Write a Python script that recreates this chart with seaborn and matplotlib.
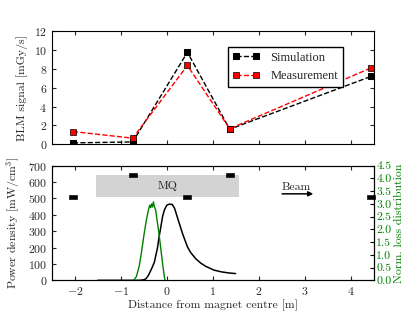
import matplotlib
matplotlib.use("Agg")
import matplotlib.pyplot as plt
import seaborn as sns

# BLM positions and signals (top panel)
blm_pos = [-2.04, -0.74, 0.45, 1.37, 4.45]
sim_signal = [0.15, 0.25, 9.75, 1.6, 7.2]
meas_signal = [1.35, 0.65, 8.35, 1.65, 8.1]

# BLM marker heights in the bottom panel
blm_marker_y = [510, 643, 510, 643, 510]

# power density along the magnet
pd_x = [-1.5, -0.6, -0.5, -0.45, -0.4, -0.33, -0.27, -0.2, -0.17, -0.12,
        -0.09, -0.05, 0.0, 0.05, 0.12, 0.17, 0.22, 0.27, 0.35, 0.45,
        0.52, 0.63, 0.74, 0.85, 1.03, 1.2, 1.35, 1.5]
pd_y = [0, 0, 3, 10, 30, 70, 110, 200, 260, 340,
        390, 430, 458, 465, 463, 440, 395, 350, 280, 205,
        170, 132, 105, 85, 62, 51, 45, 41]

# normalised loss distribution
loss_x = [-0.72, -0.66, -0.6, -0.55, -0.49, -0.44, -0.4, -0.37, -0.35, -0.33,
          -0.31, -0.29, -0.27, -0.24, -0.21, -0.17, -0.13, -0.09, -0.06, -0.04]
loss_y = [0.0, 0.15, 0.55, 1.1, 1.85, 2.4, 2.75, 2.95, 2.85, 3.0,
          2.88, 3.08, 2.9, 2.75, 2.35, 1.85, 1.25, 0.65, 0.25, 0.0]

mq_span = [-1.55, 1.57]
mq_height = [510, 645]

sns.set_style("ticks")
plt.rcParams.update({
    "font.family": "serif",
    "font.serif": ["cmr10"],
    "mathtext.fontset": "cm",
    "axes.formatter.use_mathtext": True,
    "font.size": 8.5,
    "xtick.direction": "in",
    "ytick.direction": "in",
    "xtick.top": True,
    "ytick.right": True,
    "xtick.major.size": 3,
    "ytick.major.size": 3,
    "axes.edgecolor": "black",
    "axes.linewidth": 0.8,
})

fig = plt.figure(figsize=(4.15, 3.12), dpi=100)
ax_top = fig.add_axes([0.125, 0.5375, 0.775, 0.363])
ax_bot = fig.add_axes([0.125, 0.1016, 0.775, 0.3674])

# top panel
sns.lineplot(x=blm_pos, y=sim_signal, ax=ax_top, color="black", sort=False,
             linestyle="--", lw=1.0, marker="s", markersize=4, mec="black",
             label="Simulation")
sns.lineplot(x=blm_pos, y=meas_signal, ax=ax_top, color="red", sort=False,
             linestyle="--", lw=1.0, marker="s", markersize=4, mec="black",
             mew=0.5, label="Measurement")
ax_top.set_xlim(-2.5, 4.5)
ax_top.set_ylim(0, 12)
ax_top.set_yticks(range(0, 13, 2))
ax_top.set_xticks(range(-2, 5))
ax_top.set_xticklabels([])
ax_top.set_ylabel("BLM signal [mGy/s]")
ax_top.legend(loc="upper right", bbox_to_anchor=(0.905, 0.861),
              borderaxespad=0, numpoints=2, fancybox=False, framealpha=1,
              edgecolor="black", handlelength=2.2,
              prop={"family": "Liberation Serif", "size": 9})

# bottom panel
ax_bot.fill_between(mq_span, mq_height[0], mq_height[1], color="#d3d3d3",
                    linewidth=0)
ax_bot.text(sum(mq_span) / 2, sum(mq_height) / 2, "MQ", ha="center",
            va="center")
sns.lineplot(x=pd_x, y=pd_y, ax=ax_bot, color="black", sort=False, lw=1.1)
rect = [(-1, -0.45), (1, -0.45), (1, 0.45), (-1, 0.45), (-1, -0.45)]
sns.scatterplot(x=blm_pos, y=blm_marker_y, ax=ax_bot, marker=rect, s=32,
                color="black", edgecolor="black", clip_on=False, zorder=5)
ax_bot.annotate("", xy=(3.25, 528), xytext=(2.45, 528),
                arrowprops=dict(arrowstyle="-|>", color="black", lw=1.1,
                                mutation_scale=7))
ax_bot.text(2.5, 538, "Beam", ha="left", va="bottom")
ax_bot.set_xlim(-2.5, 4.5)
ax_bot.set_ylim(0, 700)
ax_bot.set_xticks(range(-2, 5))
ax_bot.set_yticks(range(0, 701, 100))
ax_bot.tick_params(right=False)
ax_bot.set_xlabel("Distance from magnet centre [m]", labelpad=2)
ax_bot.set_ylabel("Power density [mW/cm$^3$]")

ax_r = ax_bot.twinx()
sns.lineplot(x=loss_x, y=loss_y, ax=ax_r, color="green", sort=False, lw=1.0)
ax_r.set_ylim(0, 4.5)
ax_r.set_yticks([i * 0.5 for i in range(10)])
ax_r.yaxis.set_major_formatter(matplotlib.ticker.FormatStrFormatter("%.1f"))
ax_r.tick_params(axis="y", direction="in", colors="black", labelcolor="green",
                 pad=2)
ax_r.set_ylabel("Norm. loss distribution", color="green", labelpad=2)

fig.savefig("out.png", dpi=100)
